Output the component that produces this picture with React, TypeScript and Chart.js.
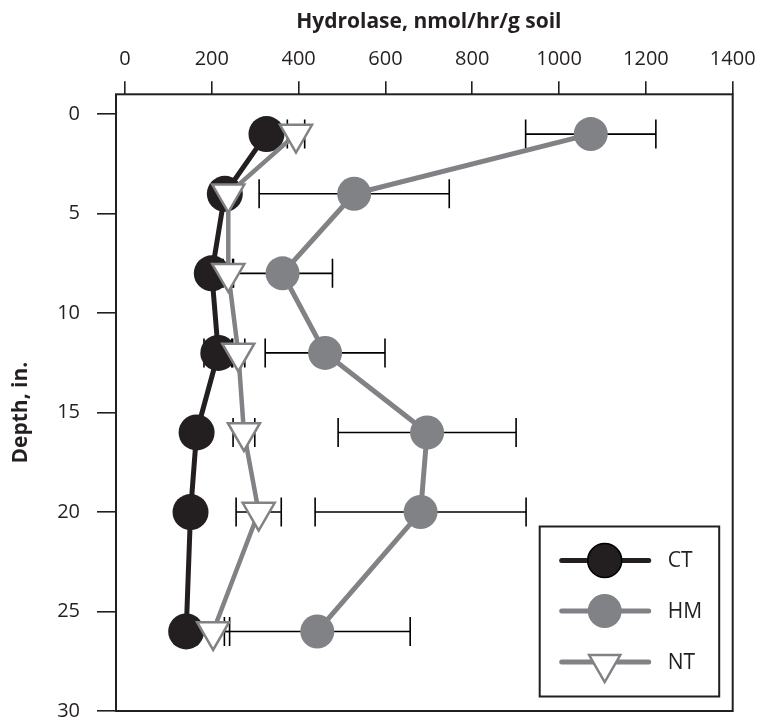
import { useEffect, useRef } from "react";
import { Chart, registerables } from "chart.js";

Chart.register(...registerables);

// ---- Data ----
const depths = [1, 4, 8, 12, 16, 20, 26];
const ctValues = [326, 230, 200, 215, 165, 151, 141];
const ctErrors = [10, 10, 10, 33, 10, 10, 10];
const hmValues = [1073, 528, 363, 461, 696, 681, 443];
const hmErrors = [150, 219, 115, 138, 205, 243, 214];
const ntValues = [394, 238, 238, 261, 274, 308, 203];
const ntErrors = [20, 10, 12, 15, 25, 52, 38];
const xTicks = [0, 200, 400, 600, 800, 1000, 1200, 1400];
const yTicks = [0, 5, 10, 15, 20, 25, 30];
const seriesNames = ["CT", "HM", "NT"];
const xTitle = "Hydrolase, nmol/hr/g soil";
const yTitle = "Depth, in.";

const DARK = "#231f20";
const GRAY = "#808285";
const FONT = "'Open Sans', 'Noto Sans', sans-serif";

const toPoints = (vals: number[]) => vals.map((v, i) => ({ x: v, y: depths[i] }));

const errorBarPlugin = {
  id: "errorBars",
  beforeDatasetsDraw(chart: any) {
    const { ctx } = chart;
    const xs = chart.scales.x;
    const ys = chart.scales.y;
    ctx.save();
    ctx.strokeStyle = "#000";
    ctx.lineWidth = 1.6;
    chart.data.datasets.forEach((ds: any) => {
      const errs: number[] = ds.errors || [];
      ds.data.forEach((p: any, i: number) => {
        const e = errs[i];
        if (!e) return;
        const xl = xs.getPixelForValue(p.x - e);
        const xr = xs.getPixelForValue(p.x + e);
        const py = ys.getPixelForValue(p.y);
        ctx.beginPath();
        ctx.moveTo(xl, py);
        ctx.lineTo(xr, py);
        ctx.moveTo(xl, py - 14.5);
        ctx.lineTo(xl, py + 14.5);
        ctx.moveTo(xr, py - 14.5);
        ctx.lineTo(xr, py + 14.5);
        ctx.stroke();
      });
    });
    ctx.restore();
  },
};

const framePlugin = {
  id: "frame",
  afterDatasetsDraw(chart: any) {
    const { ctx, chartArea: a } = chart;
    ctx.save();
    ctx.strokeStyle = DARK;
    ctx.lineWidth = 2;
    ctx.strokeRect(a.left, a.top, a.right - a.left, a.bottom - a.top);
    ctx.restore();
  },
};

// Axis titles centred on the tick range (as in the reference)
const axisTitlePlugin = {
  id: "axisTitles",
  afterDraw(chart: any) {
    const { ctx } = chart;
    const xs = chart.scales.x;
    const ys = chart.scales.y;
    ctx.save();
    ctx.fillStyle = DARK;
    ctx.font = `bold 21px ${FONT}`;
    ctx.textAlign = "center";
    ctx.textBaseline = "alphabetic";
    const cx = (xs.getPixelForValue(xTicks[0]) + xs.getPixelForValue(xTicks[xTicks.length - 1])) / 2;
    ctx.fillText(xTitle, cx, 28);
    const cy = (ys.getPixelForValue(yTicks[0]) + ys.getPixelForValue(yTicks[yTicks.length - 1])) / 2;
    ctx.translate(27, cy);
    ctx.rotate(-Math.PI / 2);
    ctx.fillText(yTitle, 0, 0);
    ctx.restore();
  },
};

function drawCircle(ctx: CanvasRenderingContext2D, x: number, y: number, r: number, fill: string, stroke?: string) {
  ctx.beginPath();
  ctx.arc(x, y, r, 0, Math.PI * 2);
  ctx.fillStyle = fill;
  ctx.fill();
  if (stroke) {
    ctx.strokeStyle = stroke;
    ctx.lineWidth = 1.6;
    ctx.stroke();
  }
}

function drawTriangleDown(ctx: CanvasRenderingContext2D, x: number, y: number, r: number) {
  const s = Math.sin(Math.PI / 3) * r;
  ctx.beginPath();
  ctx.moveTo(x, y + r);
  ctx.lineTo(x - s, y - r / 2);
  ctx.lineTo(x + s, y - r / 2);
  ctx.closePath();
  ctx.fillStyle = "#fff";
  ctx.fill();
  ctx.strokeStyle = GRAY;
  ctx.lineWidth = 2.5;
  ctx.stroke();
}

const legendPlugin = {
  id: "boxLegend",
  afterDraw(chart: any) {
    const { ctx, chartArea: a } = chart;
    const left = a.right - 193;
    const right = a.right - 13.5;
    const top = a.bottom - 184.5;
    const bottom = a.bottom - 14.5;
    ctx.save();
    ctx.fillStyle = "#fff";
    ctx.fillRect(left, top, right - left, bottom - top);
    ctx.strokeStyle = DARK;
    ctx.lineWidth = 2;
    ctx.strokeRect(left, top, right - left, bottom - top);
    const rows = [top + 34, top + 84.5, top + 135.5];
    const lineColors = [DARK, GRAY, GRAY];
    rows.forEach((ry, i) => {
      ctx.beginPath();
      ctx.moveTo(left + 22, ry);
      ctx.lineTo(left + 109, ry);
      ctx.strokeStyle = lineColors[i];
      ctx.lineWidth = 5;
      ctx.lineCap = "round";
      ctx.stroke();
      const mx = left + 65;
      if (i === 0) drawCircle(ctx, mx, ry, 17, DARK, "#000");
      else if (i === 1) drawCircle(ctx, mx, ry, 17, GRAY);
      else drawTriangleDown(ctx, mx, ry + 2, 18);
      ctx.fillStyle = DARK;
      ctx.font = `21px ${FONT}`;
      ctx.textAlign = "left";
      ctx.textBaseline = "middle";
      ctx.fillText(seriesNames[i], left + 128, ry + 1);
    });
    ctx.restore();
  },
};

export default function App() {
  const canvasRef = useRef<HTMLCanvasElement | null>(null);

  useEffect(() => {
    if (!canvasRef.current) return;
    Chart.defaults.font.family = FONT;
    const chart = new Chart(canvasRef.current, {
      type: "line",
      data: {
        datasets: [
          {
            label: seriesNames[0],
            data: toPoints(ctValues),
            errors: ctErrors,
            borderColor: DARK,
            borderWidth: 5,
            pointRadius: 18,
            pointBackgroundColor: DARK,
            pointBorderColor: DARK,
            pointBorderWidth: 0,
            order: 3,
          } as any,
          {
            label: seriesNames[1],
            data: toPoints(hmValues),
            errors: hmErrors,
            borderColor: GRAY,
            borderWidth: 5,
            pointRadius: 17,
            pointBackgroundColor: GRAY,
            pointBorderColor: GRAY,
            pointBorderWidth: 0,
            order: 2,
          } as any,
          {
            label: seriesNames[2],
            data: toPoints(ntValues),
            errors: ntErrors,
            borderColor: GRAY,
            borderWidth: 4.5,
            pointStyle: "triangle",
            rotation: 180,
            pointRadius: 18.5,
            pointBackgroundColor: "#fff",
            pointBorderColor: GRAY,
            pointBorderWidth: 2.5,
            order: 1,
          } as any,
        ],
      },
      options: {
        responsive: false,
        animation: false,
        clip: false as any,
        layout: { autoPadding: false, padding: { left: 0, top: 0, right: 28.3, bottom: 12 } },
        plugins: {
          legend: { display: false },
          tooltip: { enabled: false },
        },
        elements: { line: { tension: 0 } },
        scales: {
          x: {
            type: "linear",
            position: "top",
            min: -20.7,
            max: 1400,
            afterFit: (s: any) => {
              s.height = 94.3;
              s.paddingLeft = 0;
              s.paddingRight = 0;
            },
            afterBuildTicks: (s: any) => {
              s.ticks = xTicks.map((v) => ({ value: v }));
            },
            grid: {
              drawOnChartArea: false,
              drawTicks: true,
              tickLength: 13,
              color: DARK,
              lineWidth: 1.6,
            },
            border: { display: false },
            ticks: {
              color: DARK,
              font: { size: 20 },
              padding: 10,
              maxRotation: 0,
              autoSkip: false,
              callback: (v: any) => String(v),
            },
            title: { display: false },
          },
          y: {
            type: "linear",
            position: "left",
            reverse: true,
            min: -1,
            max: 30,
            afterFit: (s: any) => {
              s.width = 116;
              s.paddingTop = 0;
              s.paddingBottom = 0;
            },
            afterBuildTicks: (s: any) => {
              s.ticks = yTicks.map((v) => ({ value: v }));
            },
            grid: {
              drawOnChartArea: false,
              drawTicks: true,
              tickLength: 19,
              color: DARK,
              lineWidth: 1.6,
            },
            border: { display: false },
            ticks: {
              color: DARK,
              font: { size: 20 },
              padding: 17,
              autoSkip: false,
              callback: (v: any) => String(v),
            },
            title: { display: false },
          },
        },
      } as any,
      plugins: [errorBarPlugin, framePlugin, legendPlugin, axisTitlePlugin],
    });
    return () => chart.destroy();
  }, []);

  return (
    <div style={{ position: "fixed", left: 0, top: 0, width: 761, height: 723, background: "#fff", overflow: "hidden" }}>
      <canvas ref={canvasRef} width={761} height={723} style={{ display: "block" }} />
    </div>
  );
}
